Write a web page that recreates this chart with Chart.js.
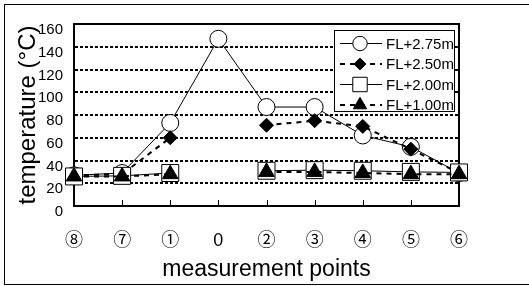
<!DOCTYPE html>
<html>
<head>
<meta charset="utf-8">
<script src="https://cdn.jsdelivr.net/npm/chart.js@4/dist/chart.umd.min.js"></script>
<style>
  body { margin: 0; background: #fff; }
  #wrap { width: 529px; height: 286px; }
</style>
</head>
<body>
<div id="wrap"><canvas id="tempChart" width="529" height="286"></canvas></div>
<script>
// measurement points along the x axis
const points = ["⑧", "⑦", "①", "0", "②", "③", "④", "⑤", "⑥"];
// temperatures (°C) per height above floor level
const fl275 = [27, 29, 73, 147, 87, 87, 62, 52, 29];
const fl250 = [27, 28, 60, null, 71, 75, 70, 50, 29];
const fl200 = [26, 26.5, 29, null, 31, 31.5, 31, 30, 29.5];
const fl100 = [26, 26, 28, null, 30, 30, 29, 28, 28];
const yTicks = [0, 20, 40, 60, 80, 100, 120, 140, 160];

const FONT = "'Liberation Sans', Arial, 'Noto Sans CJK JP', sans-serif";

// white page + outer frame
const frame = {
    id: "frame",
    beforeDraw(chart) {
        const ctx = chart.ctx;
        ctx.save();
        ctx.fillStyle = "#fff";
        ctx.fillRect(0, 0, chart.width, chart.height);
        ctx.strokeStyle = "#000";
        ctx.lineWidth = 1;
        ctx.strokeRect(4.5, 4.5, chart.width + 10, chart.height - 6);
        ctx.restore();
    },
    beforeDatasetsDraw(chart) {
        const { ctx, chartArea: a, scales } = chart;
        ctx.save();
        ctx.strokeStyle = "#000";
        ctx.lineWidth = 2;
        ctx.strokeRect(a.left, a.top, a.right - a.left, a.bottom - a.top);
        // small tick marks pointing into the plot
        ctx.lineWidth = 1;
        ctx.beginPath();
        for (let i = 1; i < points.length - 1; i++) {
            const x = Math.round(scales.x.getPixelForValue(i)) + 0.5;
            ctx.moveTo(x, a.bottom);
            ctx.lineTo(x, a.bottom - 6);
        }
        ctx.stroke();
        ctx.restore();
    }
};

// boxed legend with line samples, top right inside the plot
const boxLegend = {
    id: "boxLegend",
    afterDraw(chart) {
        const ctx = chart.ctx;
        const a = chart.chartArea;
        const x0 = a.right - 125, y0 = a.top + 6.5, w = 120, h = 81;
        ctx.save();
        ctx.fillStyle = "#fff";
        ctx.fillRect(x0, y0, w, h);
        ctx.strokeStyle = "#000";
        ctx.lineWidth = 1;
        ctx.strokeRect(x0 + 0.5, y0, w, h);
        chart.data.datasets.forEach((ds, i) => {
            const y = y0 + 13 + i * 20.5;
            ctx.strokeStyle = "#000";
            ctx.lineWidth = ds.borderWidth;
            ctx.setLineDash(ds.borderDash || []);
            ctx.beginPath();
            ctx.moveTo(x0 + 6, y);
            ctx.lineTo(x0 + 48, y);
            ctx.stroke();
            ctx.setLineDash([]);
            ctx.fillStyle = ds.pointBackgroundColor;
            ctx.lineWidth = 1;
            Chart.helpers.drawPoint(ctx, {
                pointStyle: ds.pointStyle,
                radius: ds.pointRadius * 0.85,
                rotation: 0,
                borderWidth: 1
            }, x0 + 26, y);
            ctx.fillStyle = "#000";
            ctx.font = "15px " + FONT;
            ctx.textBaseline = "middle";
            ctx.textAlign = "left";
            ctx.fillText(ds.label, x0 + 52, y + 1);
        });
        ctx.restore();
    }
};

const common = { borderColor: "#000", pointBorderColor: "#000", pointBorderWidth: 1, clip: false, tension: 0, spanGaps: false };

new Chart(document.getElementById("tempChart"), {
    type: "line",
    data: {
        labels: points,
        datasets: [
            { ...common, label: "FL+2.75m", data: fl275, borderWidth: 1, pointStyle: "circle", pointRadius: 8.5, pointBackgroundColor: "#fff", order: 4 },
            { ...common, label: "FL+2.50m", data: fl250, borderWidth: 2, borderDash: [5, 5], pointStyle: "rectRot", pointRadius: 7, pointBackgroundColor: "#000", order: 3 },
            { ...common, label: "FL+2.00m", data: fl200, borderWidth: 1, pointStyle: "rect", pointRadius: 12, pointBackgroundColor: "#fff", order: 2 },
            { ...common, label: "FL+1.00m", data: fl100, borderWidth: 2, borderDash: [5, 5], pointStyle: "triangle", pointRadius: 9, pointBackgroundColor: "#000", order: 1 }
        ]
    },
    options: {
        responsive: false,
        animation: false,
        events: [],
        layout: { padding: { left: 0, top: 24, right: 70, bottom: 0 } },
        plugins: { legend: { display: false }, tooltip: { enabled: false } },
        scales: {
            x: {
                type: "category",
                offset: false,
                afterFit: s => { s.height = 80; },
                grid: { display: false, drawTicks: false },
                border: { display: true, color: "#000", width: 2 },
                ticks: { color: "#000", padding: 24, maxRotation: 0, autoSkip: false, font: { family: FONT, size: 18 } },
                title: { display: true, text: "measurement points", color: "#000", font: { family: FONT, size: 23 }, padding: { top: 0, bottom: 3 } }
            },
            y: {
                min: 0,
                max: 160,
                afterFit: s => { s.width = 74; },
                afterBuildTicks: s => { s.ticks = yTicks.map(v => ({ value: v })); },
                grid: {
                    drawTicks: false,
                    lineWidth: 2,
                    color: c => (c.tick && (c.tick.value === 0 || c.tick.value === 160)) ? "rgba(0,0,0,0)" : "#000"
                },
                border: { display: true, color: "#000", width: 2, dash: [3, 2] },
                ticks: { color: "#000", padding: 11, labelOffset: 6, font: { family: FONT, size: 15 } },
                title: { display: true, text: "temperature (°C)", color: "#000", font: { family: FONT, size: 24 }, padding: { top: 14, bottom: 0 } }
            }
        }
    },
    plugins: [frame, boxLegend]
});
</script>
</body>
</html>
